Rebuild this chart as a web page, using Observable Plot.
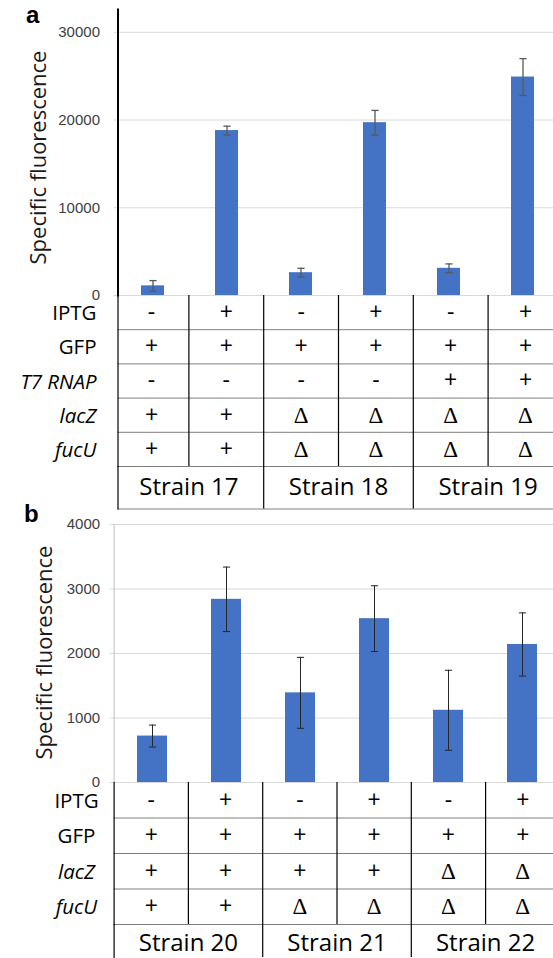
<!DOCTYPE html>
<html>
<head>
<meta charset="utf-8">
<script src="https://cdn.jsdelivr.net/npm/d3@7"></script>
<script src="https://cdn.jsdelivr.net/npm/@observablehq/plot@0.6"></script>
<style>
  body { margin: 0; background: #fff; }
  #page { position: relative; width: 553px; height: 958px; overflow: hidden; background: #fff; }
  .part { position: absolute; left: 0; }
  .part svg { overflow: visible; }
  .panel-tag { position: absolute; font: bold 24px "Liberation Sans", Arial, sans-serif; line-height: 1; color: #000; }
</style>
</head>
<body>
<div id="page"></div>
<script>
// ---- Panel a: strains 17-19 ----
const conditionsA = ["S17 -IPTG", "S17 +IPTG", "S18 -IPTG", "S18 +IPTG", "S19 -IPTG", "S19 +IPTG"];
const fluorescenceA = [1100, 18800, 2600, 19700, 3100, 24900];
const errorA = [600, 500, 500, 1400, 500, 2100];
const yTicksA = [0, 10000, 20000, 30000];
const rowLabelsA = ["IPTG", "GFP", "T7 RNAP", "lacZ", "fucU"];
const iptgA = ["-", "+", "-", "+", "-", "+"];
const gfpA = ["+", "+", "+", "+", "+", "+"];
const t7A = ["-", "-", "-", "-", "+", "+"];
const lacZA = ["+", "+", "Δ", "Δ", "Δ", "Δ"];
const fucUA = ["+", "+", "Δ", "Δ", "Δ", "Δ"];
const strainsA = ["Strain 17", "Strain 18", "Strain 19"];

// ---- Panel b: strains 20-22 ----
const conditionsB = ["S20 -IPTG", "S20 +IPTG", "S21 -IPTG", "S21 +IPTG", "S22 -IPTG", "S22 +IPTG"];
const fluorescenceB = [720, 2840, 1390, 2540, 1120, 2140];
const errorB = [170, 500, 550, 510, 620, 490];
const yTicksB = [0, 1000, 2000, 3000, 4000];
const rowLabelsB = ["IPTG", "GFP", "lacZ", "fucU"];
const iptgB = ["-", "+", "-", "+", "-", "+"];
const gfpB = ["+", "+", "+", "+", "+", "+"];
const lacZB = ["+", "+", "+", "+", "Δ", "Δ"];
const fucUB = ["+", "+", "Δ", "Δ", "Δ", "Δ"];
const strainsB = ["Strain 20", "Strain 21", "Strain 22"];

const yLabel = "Specific fluorescence";
const italicRows = new Set(["T7 RNAP", "lacZ", "fucU"]);

const W = 553;
const SANS = "'Open Sans', 'Noto Sans', sans-serif";
const ARIAL = "'Liberation Sans', Arial, sans-serif";
const SERIF = "'Liberation Serif', 'Times New Roman', serif";

// short horizontal stroke used as the error-bar cap
const capSymbol = {
  draw(context, size) {
    const r = Math.sqrt(size / Math.PI);
    context.moveTo(-r, 0);
    context.lineTo(r, 0);
  }
};

const page = document.getElementById("page");
function place(node, top) {
  const div = document.createElement("div");
  div.className = "part";
  div.style.top = top + "px";
  div.appendChild(node);
  page.appendChild(div);
}
function tag(text, left, top) {
  const div = document.createElement("div");
  div.className = "panel-tag";
  div.style.left = left + "px";
  div.style.top = top + "px";
  div.textContent = text;
  page.appendChild(div);
}

function barChart(cfg) {
  const data = cfg.conditions.map((c, i) => ({cond: c, value: cfg.values[i], err: cfg.errors[i]}));
  return Plot.plot({
    width: W,
    height: cfg.height,
    marginTop: cfg.marginTop,
    marginBottom: 1,
    marginLeft: cfg.axisX,
    marginRight: 0,
    style: {background: "transparent", overflow: "visible"},
    x: {type: "band", domain: cfg.conditions, range: cfg.xRange, paddingInner: cfg.pad, paddingOuter: cfg.pad / 2, axis: null},
    y: {domain: [0, cfg.yTop], axis: null},
    marks: [
      Plot.gridY(cfg.ticks, {stroke: "#d9d9d9", strokeOpacity: 1, strokeWidth: 1}),
      Plot.axisY(cfg.ticks, {
        tickSize: 4, stroke: "#d9d9d9", strokeOpacity: 1, color: "#404040",
        tickPadding: cfg.tickPad, fontSize: 15, fontFamily: ARIAL, label: null,
        tickFormat: d => String(d)
      }),
      Plot.barY(data, {x: "cond", y: "value", fill: "#4472C4"}),
      Plot.ruleX(data, {x: "cond", y1: d => d.value - d.err, y2: d => d.value + d.err, stroke: cfg.errColor, strokeWidth: cfg.errWidth}),
      Plot.dot(data, {x: "cond", y: d => d.value + d.err, r: 3.6, symbol: capSymbol, stroke: cfg.errColor, strokeWidth: cfg.errWidth, fill: "none"}),
      Plot.dot(data, {x: "cond", y: d => d.value - d.err, r: 3.6, symbol: capSymbol, stroke: cfg.errColor, strokeWidth: cfg.errWidth, fill: "none"}),
      Plot.frame({anchor: "left", stroke: cfg.axisColor, strokeWidth: cfg.axisWidth}),
      Plot.text([yLabel], {
        text: d => d, frameAnchor: "left", textAnchor: "middle", dx: cfg.labelDx, dy: cfg.labelDy,
        rotate: -90, fontSize: 22, fontFamily: SANS, fill: "#1a1a1a"
      })
    ]
  });
}

function conditionTable(cfg) {
  const n = cfg.rows.length;
  const cells = cfg.rows.flatMap((row, r) => cfg.cells[r].map((s, c) => ({r, c, s})));
  const labels = cfg.rows.map((label, i) => ({label, i}));
  const labelOpts = (extra) => Object.assign({
    y: d => d.i + 0.5, text: "label", frameAnchor: "left", dx: cfg.labelDx, dy: 1,
    textAnchor: cfg.labelAnchor, fontSize: 20.5, fontFamily: SANS, fill: "#000"
  }, extra);
  return Plot.plot({
    width: W,
    height: cfg.height + 1,
    marginTop: 0,
    marginBottom: 1,
    marginLeft: cfg.axisX,
    marginRight: 0,
    style: {background: "transparent", overflow: "visible"},
    x: {domain: [0, 6], range: cfg.xRange, axis: null},
    y: {domain: [0, n], range: [0, cfg.height], axis: null},
    marks: [
      Plot.ruleY(d3.range(1, n + 1), {stroke: "#7f7f7f", strokeWidth: 1}),
      Plot.ruleX(d3.range(1, 6), {y1: 0, y2: n, stroke: "#000", strokeWidth: 1.2}),
      Plot.frame({anchor: "left", stroke: "#000", strokeWidth: 1.2}),
      Plot.text(cells.filter(d => d.s !== "Δ"), {x: d => d.c + 0.5, y: d => d.r + 0.5, text: "s", fontSize: 23, fontFamily: SANS, fill: "#000"}),
      Plot.text(cells.filter(d => d.s === "Δ"), {x: d => d.c + 0.5, y: d => d.r + 0.5, text: "s", fontSize: 23, fontFamily: SERIF, fill: "#000"}),
      Plot.text(labels.filter(d => !italicRows.has(d.label)), labelOpts({})),
      Plot.text(labels.filter(d => italicRows.has(d.label)), labelOpts({fontStyle: "italic"}))
    ]
  });
}

function strainRow(cfg) {
  return Plot.plot({
    width: W,
    height: cfg.height + 1,
    marginTop: 0,
    marginBottom: 1,
    marginLeft: cfg.axisX,
    marginRight: 0,
    style: {background: "transparent", overflow: "visible"},
    x: {domain: [0, 6], range: cfg.xRange, axis: null},
    y: {domain: [0, 1], range: [0, cfg.height], axis: null},
    marks: [
      cfg.bottomLine ? Plot.ruleY([1], {stroke: "#7f7f7f", strokeWidth: 1}) : null,
      Plot.ruleX([2, 4], {y1: 0, y2: 1, stroke: "#000", strokeWidth: 1.2}),
      Plot.frame({anchor: "left", stroke: "#000", strokeWidth: 1.2}),
      Plot.text(cfg.strains, {x: (d, i) => 2 * i + 1, y: 0.5, dy: cfg.textDy, text: d => d, fontSize: 24, fontFamily: SANS, fill: "#000"})
    ]
  });
}

// ---- panel a ----
const xRangeA = [113.6, 562.4];
place(barChart({
  conditions: conditionsA, values: fluorescenceA, errors: errorA, ticks: yTicksA,
  yTop: 32600, height: 296, marginTop: 9, axisX: 117.5, xRange: xRangeA, pad: 0.686,
  tickPad: 14, axisColor: "#000", axisWidth: 2, errColor: "#595959", errWidth: 1.3,
  labelDx: -78.7, labelDy: 5
}), 0);
place(conditionTable({
  rows: rowLabelsA, cells: [iptgA, gfpA, t7A, lacZA, fucUA],
  height: 171, axisX: 117.5, xRange: xRangeA, labelDx: -21.5, labelAnchor: "end"
}), 295);
place(strainRow({strains: strainsA, height: 42.5, axisX: 117.5, xRange: xRangeA, bottomLine: true, textDy: 0}), 466);
tag("a", 26, 3);

// ---- panel b ----
const xRangeB = [113.6, 559.4];
place(barChart({
  conditions: conditionsB, values: fluorescenceB, errors: errorB, ticks: yTicksB,
  yTop: 4000, height: 283, marginTop: 24, axisX: 113.6, xRange: xRangeB, pad: 0.6,
  tickPad: 10, axisColor: "#bfbfbf", axisWidth: 1, errColor: "#262626", errWidth: 1,
  labelDx: -69.6, labelDy: -1
}), 500);
place(conditionTable({
  rows: rowLabelsB, cells: [iptgB, gfpB, lacZB, fucUB],
  height: 142, axisX: 113.6, xRange: xRangeB, labelDx: -37.6, labelAnchor: "middle"
}), 782);
place(strainRow({strains: strainsB, height: 33, axisX: 113.6, xRange: xRangeB, bottomLine: false, textDy: 2}), 924);
tag("b", 24, 502);
</script>
</body>
</html>
